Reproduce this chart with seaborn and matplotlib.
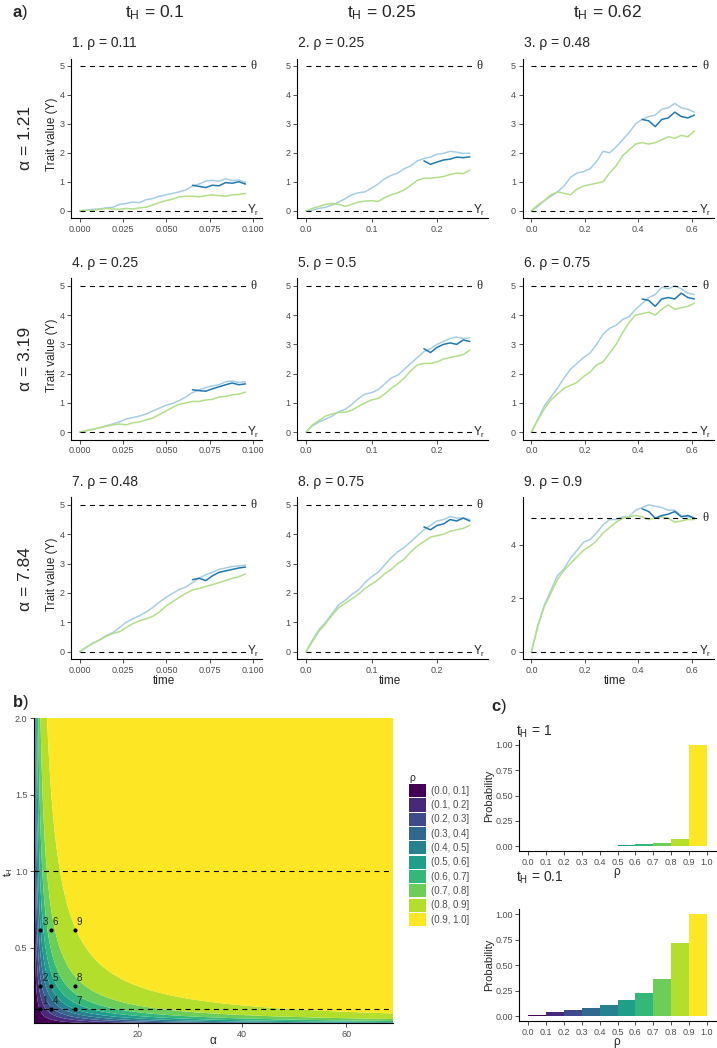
import numpy as np
import pandas as pd
import matplotlib
matplotlib.use("Agg")
import matplotlib.pyplot as plt
import seaborn as sns
from matplotlib.patches import Patch

# ---------------- data ----------------
ALPHAS = [1.21, 3.19, 7.84]
T_H = [0.1, 0.25, 0.62]
RHO_TITLES = ["0.11", "0.25", "0.48", "0.25", "0.5", "0.75", "0.48", "0.75", "0.9"]
THETA = 5
Y_R = 0
T_END = [0.0955, 0.25, 0.61]          # last time of the simulated paths per column
X_ANN = [0.1, 0.265, 0.65]            # x of the theta / Y_r annotations
N_PTS = 26

LB1 = [0, 0.02, 0.05, 0.06, 0.10, 0.12, 0.22, 0.25, 0.30, 0.28, 0.38, 0.42, 0.50, 0.55, 0.60, 0.65, 0.72, 0.85, 0.92, 1.02, 1.05, 1.02, 1.10, 1.04, 1.06, 0.98]
DB1 = [0.88, 0.84, 0.80, 0.88, 0.86, 0.97, 0.95, 1.00, 0.92]
GR1 = [0, 0.02, 0.0, 0.05, 0.08, 0.06, 0.05, 0.08, 0.06, 0.10, 0.12, 0.20, 0.28, 0.35, 0.40, 0.48, 0.50, 0.50, 0.48, 0.52, 0.55, 0.52, 0.50, 0.55, 0.56, 0.60]

LB2 = [0, 0.02, 0.08, 0.12, 0.20, 0.30, 0.42, 0.55, 0.62, 0.65, 0.78, 0.92, 1.10, 1.22, 1.30, 1.45, 1.55, 1.72, 1.80, 1.85, 1.95, 1.98, 2.05, 2.02, 1.98, 1.98]
DB2 = [1.72, 1.60, 1.68, 1.75, 1.78, 1.85, 1.83, 1.86]
GR2 = [0, 0.08, 0.15, 0.22, 0.25, 0.22, 0.15, 0.22, 0.30, 0.33, 0.35, 0.32, 0.45, 0.55, 0.62, 0.72, 0.88, 1.05, 1.12, 1.12, 1.15, 1.18, 1.25, 1.30, 1.28, 1.40]

LB3 = [0, 0.15, 0.35, 0.50, 0.65, 0.85, 1.15, 1.30, 1.35, 1.45, 1.70, 2.05, 2.00, 2.20, 2.45, 2.70, 3.00, 3.15, 3.25, 3.30, 3.50, 3.55, 3.70, 3.55, 3.50, 3.40]
DB3 = [3.15, 3.10, 2.90, 3.15, 3.20, 3.40, 3.25, 3.20, 3.30]
GR3 = [0, 0.20, 0.35, 0.55, 0.65, 0.60, 0.55, 0.75, 0.85, 0.90, 0.95, 1.00, 1.30, 1.55, 1.90, 2.10, 2.30, 2.35, 2.30, 2.35, 2.45, 2.55, 2.50, 2.60, 2.55, 2.75]

LB4 = [0, 0.05, 0.10, 0.15, 0.22, 0.28, 0.35, 0.45, 0.50, 0.55, 0.62, 0.72, 0.82, 0.92, 0.98, 1.08, 1.20, 1.35, 1.45, 1.52, 1.58, 1.62, 1.72, 1.75, 1.70, 1.72]
DB4 = [1.45, 1.42, 1.40, 1.48, 1.55, 1.62, 1.68, 1.62, 1.65]
GR4 = [0, 0.05, 0.10, 0.15, 0.20, 0.25, 0.28, 0.25, 0.32, 0.35, 0.42, 0.48, 0.60, 0.72, 0.85, 0.95, 1.00, 1.05, 1.05, 1.10, 1.12, 1.20, 1.22, 1.28, 1.30, 1.37]

LB5 = [0, 0.22, 0.35, 0.45, 0.55, 0.70, 0.78, 0.95, 1.15, 1.30, 1.35, 1.45, 1.65, 1.85, 1.95, 2.15, 2.35, 2.55, 2.75, 2.85, 3.00, 3.10, 3.20, 3.25, 3.20, 3.22]
DB5 = [2.85, 2.72, 2.90, 3.00, 3.05, 3.00, 3.15, 3.10]
GR5 = [0, 0.25, 0.40, 0.55, 0.62, 0.68, 0.68, 0.75, 0.88, 1.00, 1.10, 1.15, 1.30, 1.50, 1.65, 1.85, 2.10, 2.30, 2.35, 2.35, 2.40, 2.50, 2.55, 2.60, 2.65, 2.80]

LB6 = [0, 0.45, 0.90, 1.20, 1.50, 1.85, 2.15, 2.35, 2.55, 2.70, 3.00, 3.35, 3.55, 3.65, 3.85, 3.95, 4.20, 4.40, 4.60, 4.70, 4.95, 4.90, 5.00, 4.90, 4.75, 4.70]
DB6 = [4.55, 4.50, 4.30, 4.55, 4.60, 4.55, 4.75, 4.60, 4.55]
GR6 = [0, 0.42, 0.80, 1.10, 1.30, 1.50, 1.60, 1.70, 1.90, 2.05, 2.30, 2.40, 2.70, 3.00, 3.40, 3.75, 4.00, 4.05, 4.10, 4.00, 4.20, 4.35, 4.20, 4.25, 4.30, 4.40]

LB7 = [0, 0.15, 0.30, 0.40, 0.55, 0.65, 0.82, 1.00, 1.12, 1.22, 1.35, 1.50, 1.68, 1.85, 1.98, 2.12, 2.20, 2.35, 2.50, 2.62, 2.70, 2.80, 2.85, 2.90, 2.92, 2.95]
DB7 = [2.45, 2.50, 2.42, 2.58, 2.70, 2.75, 2.80, 2.85, 2.88]
GR7 = [0, 0.15, 0.28, 0.40, 0.52, 0.62, 0.68, 0.82, 0.95, 1.05, 1.12, 1.20, 1.35, 1.55, 1.70, 1.85, 1.98, 2.10, 2.15, 2.22, 2.28, 2.35, 2.42, 2.50, 2.55, 2.65]

LB8 = [0, 0.40, 0.75, 1.00, 1.30, 1.60, 1.75, 1.95, 2.10, 2.35, 2.55, 2.70, 2.95, 3.20, 3.40, 3.55, 3.75, 3.95, 4.15, 4.30, 4.45, 4.50, 4.60, 4.55, 4.55, 4.50]
DB8 = [4.25, 4.15, 4.30, 4.35, 4.50, 4.45, 4.55, 4.45]
GR8 = [0, 0.35, 0.70, 0.95, 1.25, 1.50, 1.65, 1.80, 1.95, 2.15, 2.30, 2.45, 2.65, 2.80, 3.00, 3.15, 3.40, 3.60, 3.75, 3.90, 3.95, 4.00, 4.10, 4.15, 4.20, 4.30]

LB9 = [0, 1.00, 1.75, 2.30, 2.85, 3.10, 3.50, 3.80, 4.10, 4.20, 4.45, 4.75, 4.95, 4.95, 5.05, 5.05, 5.30, 5.40, 5.50, 5.45, 5.40, 5.30, 5.30, 5.10, 5.05, 5.00]
DB9 = [5.35, 5.25, 5.00, 5.10, 5.15, 5.25, 5.05, 5.10, 5.00]
GR9 = [0, 0.95, 1.70, 2.20, 2.70, 3.05, 3.30, 3.55, 3.80, 3.95, 4.15, 4.45, 4.65, 4.85, 5.00, 5.05, 5.10, 5.05, 4.95, 5.00, 5.05, 5.00, 4.85, 4.90, 4.95, 4.95]

RHO_BINS = ["(0.0, 0.1]", "(0.1, 0.2]", "(0.2, 0.3]", "(0.3, 0.4]", "(0.4, 0.5]",
            "(0.5, 0.6]", "(0.6, 0.7]", "(0.7, 0.8]", "(0.8, 0.9]", "(0.9, 1.0]"]
BIN_CENTERS = [0.05, 0.15, 0.25, 0.35, 0.45, 0.55, 0.65, 0.75, 0.85, 0.95]
PROB_TH1 = [0.002, 0.003, 0.004, 0.005, 0.007, 0.012, 0.02, 0.035, 0.068, 1.0]
PROB_TH01 = [0.012, 0.035, 0.055, 0.082, 0.112, 0.157, 0.23, 0.36, 0.72, 1.0]
TH_LINES = [1.0, 0.1]
ALPHA_MAX = 69

VIRIDIS10 = ["#440154", "#482878", "#3E4A89", "#31688E", "#26828E",
             "#1F9E89", "#35B779", "#6DCD59", "#B4DE2C", "#FDE725"]
C_LIGHT, C_DARK, C_GREEN = "#A6CEE3", "#1F78B4", "#B2DF8A"

# ---------------- style ----------------
sns.set_theme(style="ticks")
plt.rcParams["font.family"] = ["Liberation Sans", "DejaVu Sans"]
plt.rcParams["mathtext.fontset"] = "custom"
plt.rcParams["mathtext.rm"] = "Liberation Sans"
plt.rcParams["mathtext.it"] = "Liberation Sans:italic"
plt.rcParams["mathtext.bf"] = "Liberation Sans:bold"
plt.rcParams["mathtext.default"] = "rm"

TICK_C = "#4D4D4D"
W, H = 717, 1048
fig = plt.figure(figsize=(W / 100, H / 100), dpi=100)


def add_ax(l, t, r, b):
    return fig.add_axes([l / W, 1 - b / H, (r - l) / W, (b - t) / H])


def style_ax(ax, fs=6.5):
    sns.despine(ax=ax)
    for s in ("left", "bottom"):
        ax.spines[s].set_color("black")
        ax.spines[s].set_linewidth(0.8)
    ax.tick_params(axis="both", colors="#333333", labelcolor=TICK_C, labelsize=fs,
                   length=2.8, width=0.6, pad=2)


def ftext(x, y, s, **kw):
    fig.text(x / W, 1 - y / H, s, **kw)


LIGHTS = [LB1, LB2, LB3, LB4, LB5, LB6, LB7, LB8, LB9]
DARKS = [DB1, DB2, DB3, DB4, DB5, DB6, DB7, DB8, DB9]
GREENS = [GR1, GR2, GR3, GR4, GR5, GR6, GR7, GR8, GR9]

COL_L = [71, 297.3, 522.7]
PANEL_W = 191
ROW_TB = [(58.5, 218), (278.5, 439.5), (497.5, 659)]
XTICKS = [[0, 0.025, 0.05, 0.075, 0.1], [0, 0.1, 0.2], [0, 0.2, 0.4, 0.6]]
XTICKLABELS = [["0.000", "0.025", "0.050", "0.075", "0.100"], ["0.0", "0.1", "0.2"],
               ["0.0", "0.2", "0.4", "0.6"]]
dash = (0, (4.5, 4))

for r in range(3):
    for c in range(3):
        k = r * 3 + c
        top, bot = ROW_TB[r]
        ax = add_ax(COL_L[c], top, COL_L[c] + PANEL_W, bot)
        t = np.linspace(0, T_END[c], N_PTS)
        db = DARKS[k]
        t_db = t[N_PTS - len(db):]
        sns.lineplot(x=t, y=LIGHTS[k], color=C_LIGHT, lw=1.1, ax=ax)
        sns.lineplot(x=t, y=GREENS[k], color=C_GREEN, lw=1.1, ax=ax)
        sns.lineplot(x=t_db, y=db, color=C_DARK, lw=1.1, ax=ax)
        xe = X_ANN[c] * 0.965
        ax.hlines([THETA, Y_R], 0, xe, colors="black", linestyles=dash, lw=0.8)
        ax.text(X_ANN[c], THETA, "θ", ha="center", va="center", fontsize=9,
                family=["Liberation Serif", "DejaVu Serif"])
        ax.text(X_ANN[c], Y_R, "Y$_\\mathrm{r}$", ha="center", va="center", fontsize=8.5)
        ymax = max(THETA, max(LIGHTS[k]))
        ax.set_ylim(-0.05 * ymax, 1.05 * ymax)
        ax.set_xlim(-0.05 * X_ANN[c], 1.05 * X_ANN[c])
        if ymax > THETA:
            ax.set_yticks([0, 2, 4])
        else:
            ax.set_yticks([0, 1, 2, 3, 4, 5])
        ax.set_xticks(XTICKS[c])
        ax.set_xticklabels(XTICKLABELS[c])
        style_ax(ax)
        ax.set_xlabel("")
        ax.set_ylabel("")
        if c == 0:
            ftext(52, (top + bot) / 2 - 4, "Trait value (Y)", ha="center", va="center",
                  fontsize=8.5, rotation=90)
        ftext(COL_L[c] + 1, top - 15.5, f"{k + 1}. ρ = {RHO_TITLES[k]}", ha="left",
              va="center", fontsize=10)
        if r == 2:
            ftext(COL_L[c] + PANEL_W / 2 - 3, 680.5, "time", ha="center", va="center", fontsize=8.5)

for c, x in enumerate([155, 382, 607]):
    ftext(x, 13, f"t$_\\mathrm{{H}}$ = {T_H[c]}", ha="center", va="center", fontsize=12.5)
for r, y in enumerate([138, 359, 579]):
    ftext(25, y, f"α = {ALPHAS[r]}", ha="center", va="center", fontsize=12.5, rotation=90)

ftext(12, 13, "$\\mathbf{a}$)", ha="left", va="center", fontsize=12)
ftext(12, 702, "$\\mathbf{b}$)", ha="left", va="center", fontsize=12)
ftext(491, 706, "$\\mathbf{c}$)", ha="left", va="center", fontsize=12)

# ---------------- panel b ----------------
axb = add_ax(34, 718, 393, 1023)
a_grid = np.linspace(0.01, ALPHA_MAX, 600)
t_grid = np.linspace(0.01, 2.0, 600)
AA, TT = np.meshgrid(a_grid, t_grid)
X2 = 2 * AA * TT
RHO = 1 - (1 - np.exp(-X2)) / X2
axb.contourf(AA, TT, RHO, levels=np.linspace(0, 1, 11), colors=VIRIDIS10, antialiased=True)
axb.hlines(TH_LINES, 0, ALPHA_MAX, colors="black", linestyles=dash, lw=0.8)
pts = pd.DataFrame({"alpha": [a for a in ALPHAS for _ in T_H],
                    "tH": [th for _ in ALPHAS for th in T_H]})
pts["lab"] = [str(ai * 3 + ti + 1) for ai in range(3) for ti in range(3)]
sns.scatterplot(data=pts, x="alpha", y="tH", color="black", s=9, linewidth=0, ax=axb, zorder=5)
for _, row in pts.iterrows():
    axb.annotate(row["lab"], (row["alpha"], row["tH"]), xytext=(1.5, 3.5),
                 textcoords="offset points", fontsize=7, color="#222222")
axb.set_xlim(0, ALPHA_MAX)
axb.set_ylim(0.01, 2.0)
axb.set_xticks([20, 40, 60])
axb.set_yticks([0.5, 1.0, 1.5, 2.0])
axb.set_yticklabels(["0.5", "1.0", "1.5", "2.0"])
style_ax(axb)
axb.set_xlabel("")
axb.set_ylabel("")
ftext(213, 1041, "α", ha="center", va="center", fontsize=8.5)
ftext(8, 872, "t$_\\mathrm{H}$", ha="center", va="center", fontsize=7.5, rotation=90)

handles = [Patch(facecolor=col, edgecolor="none", label=lab) for col, lab in zip(VIRIDIS10, RHO_BINS)]
leg = fig.legend(handles=handles, loc="upper left", bbox_to_anchor=(409 / W, 1 - 773 / H),
                 frameon=False, title="ρ", fontsize=7, title_fontsize=7.5,
                 handlelength=1.7, handleheight=1.7, labelspacing=0.12, handletextpad=0.55,
                 borderaxespad=0, borderpad=0, labelcolor=TICK_C, alignment="left")

# ---------------- panel c ----------------
for probs, (top, bot), title, ty in [(PROB_TH1, (739.6, 851.4), "1", 732),
                                      (PROB_TH01, (909.2, 1021.1), "0.1", 878)]:
    axc = add_ax(519.4, top, 715.6, bot)
    dfc = pd.DataFrame({"rho": BIN_CENTERS, "p": probs, "bin": RHO_BINS})
    sns.barplot(data=dfc, x="rho", y="p", hue="bin", palette=VIRIDIS10, native_scale=True,
                width=1, dodge=False, saturation=1, errorbar=None, legend=False, ax=axc,
                linewidth=0, edgecolor="none")
    axc.set_xlim(-0.05, 1.05)
    axc.set_ylim(-0.05, 1.05)
    axc.set_xticks([i / 10 for i in range(11)])
    axc.set_xticklabels([f"{i / 10:.1f}" for i in range(11)])
    axc.set_yticks([0, 0.25, 0.5, 0.75, 1.0])
    axc.set_yticklabels(["0.00", "0.25", "0.50", "0.75", "1.00"])
    style_ax(axc)
    axc.set_xlabel("")
    axc.set_ylabel("")
    ftext(489, (top + bot) / 2, "Probability", ha="center", va="center", fontsize=8, rotation=90)
    ftext(617, bot + 20.5, "ρ", ha="center", va="center", fontsize=8.5)
    ftext(516, ty, f"t$_\\mathrm{{H}}$ = {title}", ha="left", va="center", fontsize=10)

fig.savefig("out.png", dpi=100, facecolor="white")
